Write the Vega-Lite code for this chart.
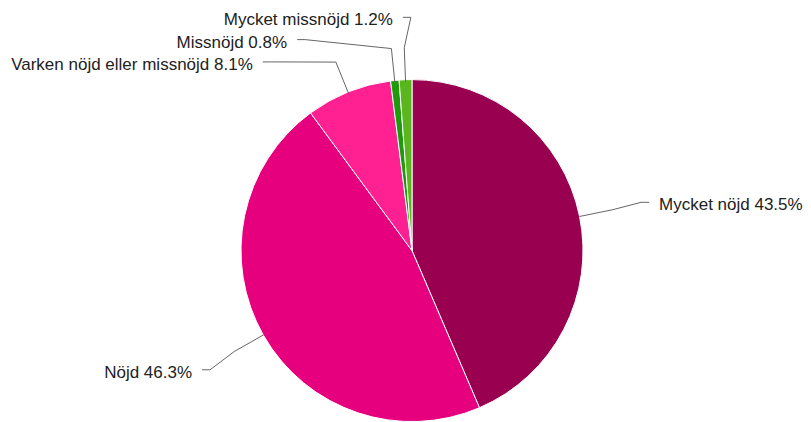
{
  "$schema": "https://vega.github.io/schema/vega-lite/v6.json",
  "width": 811,
  "height": 422,
  "autosize": {"type": "fit", "contains": "padding"},
  "padding": 0,
  "background": "white",
  "config": {"view": {"stroke": null}},
  "data": {
    "values": [
      {"category": "Mycket nöjd", "value": 43.5},
      {"category": "Nöjd", "value": 46.3},
      {"category": "Varken nöjd eller missnöjd", "value": 8.1},
      {"category": "Missnöjd", "value": 0.8},
      {"category": "Mycket missnöjd", "value": 1.2}
    ]
  },
  "transform": [
    {"window": [{"op": "row_number", "as": "idx"}, {"op": "sum", "field": "value", "as": "cum"}], "frame": [null, 0]},
    {"joinaggregate": [{"op": "sum", "field": "value", "as": "total"}]},
    {"calculate": "datum.cum - datum.value", "as": "start"},
    {"calculate": "(datum.cum - datum.value / 2) / datum.total * 2 * PI", "as": "mid"},
    {"calculate": "sin(datum.mid) >= 0 ? 1 : -1", "as": "side"},
    {"calculate": "242 * cos(datum.mid)", "as": "ny"},
    {"calculate": "min(datum.ny, 235.5)", "as": "nyc"},
    {"window": [{"op": "row_number", "as": "rk"}], "groupby": ["side"], "sort": [{"field": "ny", "order": "descending"}]},
    {"calculate": "datum.nyc + datum.rk * 22.5", "as": "z"},
    {"window": [{"op": "min", "field": "z", "as": "zmin"}], "groupby": ["side"], "sort": [{"field": "ny", "order": "descending"}], "frame": [null, 0]},
    {"calculate": "datum.zmin - datum.rk * 22.5", "as": "ly"},
    {"calculate": "datum.ly >= 235.4 ? 242 * sin(datum.mid) : datum.side * sqrt(max(0, 242 * 242 - datum.ly * datum.ly))", "as": "lx"},
    {"calculate": "datum.lx - datum.side * 8", "as": "ex"},
    {"calculate": "205 * sin(datum.mid)", "as": "bx"},
    {"calculate": "205 * cos(datum.mid)", "as": "by"},
    {"calculate": "171 * sin(datum.mid)", "as": "sx"},
    {"calculate": "171 * cos(datum.mid)", "as": "sy"},
    {"calculate": "datum.lx + datum.side * 10", "as": "tx"},
    {"calculate": "datum.category + ' ' + format(datum.value, '.1f') + '%'", "as": "label"}
  ],
  "layer": [
    {
      "mark": {"type": "arc", "outerRadius": 171, "stroke": "white", "strokeWidth": 1},
      "encoding": {
        "x": {"datum": 0, "type": "quantitative", "scale": {"domain": [-412, 399], "nice": false, "zero": false}, "axis": null},
        "y": {"datum": 0, "type": "quantitative", "scale": {"domain": [-169, 253], "nice": false, "zero": false}, "axis": null},
        "theta": {"field": "cum", "type": "quantitative", "scale": {"zero": true, "nice": false}},
        "theta2": {"field": "start"},
        "color": {
          "field": "category", "type": "nominal", "legend": null,
          "scale": {
            "domain": ["Mycket nöjd", "Nöjd", "Varken nöjd eller missnöjd", "Missnöjd", "Mycket missnöjd"],
            "range": ["#990050", "#e6007e", "#ff2192", "#1f9a0c", "#5ab51e"]
          }
        }
      }
    },
    {
      "mark": {"type": "rule", "color": "#666666", "strokeWidth": 1},
      "encoding": {
        "x": {"field": "lx", "type": "quantitative", "scale": {"domain": [-412, 399], "nice": false, "zero": false}, "axis": null},
        "y": {"field": "ly", "type": "quantitative", "scale": {"domain": [-169, 253], "nice": false, "zero": false}, "axis": null},
        "x2": {"field": "ex"},
        "y2": {"field": "ly"}
      }
    },
    {
      "mark": {"type": "rule", "color": "#666666", "strokeWidth": 1},
      "encoding": {
        "x": {"field": "ex", "type": "quantitative", "axis": null},
        "y": {"field": "ly", "type": "quantitative", "axis": null},
        "x2": {"field": "bx"},
        "y2": {"field": "by"}
      }
    },
    {
      "mark": {"type": "rule", "color": "#666666", "strokeWidth": 1},
      "encoding": {
        "x": {"field": "bx", "type": "quantitative", "axis": null},
        "y": {"field": "by", "type": "quantitative", "axis": null},
        "x2": {"field": "sx"},
        "y2": {"field": "sy"}
      }
    },
    {
      "transform": [{"filter": "datum.side < 0"}],
      "mark": {"type": "text", "align": "right", "baseline": "middle", "dy": 3, "font": "Liberation Sans", "fontSize": 17, "color": "#222222"},
      "encoding": {
        "x": {"field": "tx", "type": "quantitative", "axis": null},
        "y": {"field": "ly", "type": "quantitative", "axis": null},
        "text": {"field": "label", "type": "nominal"}
      }
    },
    {
      "transform": [{"filter": "datum.side > 0"}],
      "mark": {"type": "text", "align": "left", "baseline": "middle", "dy": 3, "font": "Liberation Sans", "fontSize": 17, "color": "#222222"},
      "encoding": {
        "x": {"field": "tx", "type": "quantitative", "axis": null},
        "y": {"field": "ly", "type": "quantitative", "axis": null},
        "text": {"field": "label", "type": "nominal"}
      }
    }
  ]
}
